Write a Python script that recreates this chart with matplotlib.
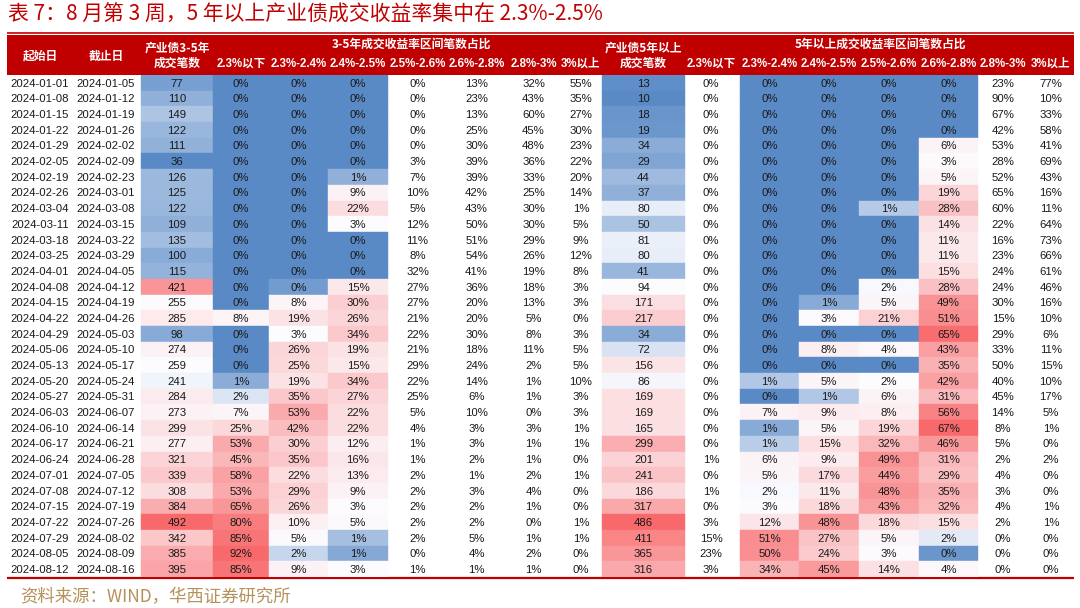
import numpy as np
import matplotlib
matplotlib.use("Agg")
import matplotlib.pyplot as plt
from matplotlib.patches import Rectangle
from matplotlib.colors import to_rgb

# ---------------- data ----------------
start_dates = ["2024-01-01", "2024-01-08", "2024-01-15", "2024-01-22", "2024-01-29", "2024-02-05",
               "2024-02-19", "2024-02-26", "2024-03-04", "2024-03-11", "2024-03-18", "2024-03-25",
               "2024-04-01", "2024-04-08", "2024-04-15", "2024-04-22", "2024-04-29", "2024-05-06",
               "2024-05-13", "2024-05-20", "2024-05-27", "2024-06-03", "2024-06-10", "2024-06-17",
               "2024-06-24", "2024-07-01", "2024-07-08", "2024-07-15", "2024-07-22", "2024-07-29",
               "2024-08-05", "2024-08-12"]
end_dates = ["2024-01-05", "2024-01-12", "2024-01-19", "2024-01-26", "2024-02-02", "2024-02-09",
             "2024-02-23", "2024-03-01", "2024-03-08", "2024-03-15", "2024-03-22", "2024-03-29",
             "2024-04-05", "2024-04-12", "2024-04-19", "2024-04-26", "2024-05-03", "2024-05-10",
             "2024-05-17", "2024-05-24", "2024-05-31", "2024-06-07", "2024-06-14", "2024-06-21",
             "2024-06-28", "2024-07-05", "2024-07-12", "2024-07-19", "2024-07-26", "2024-08-02",
             "2024-08-09", "2024-08-16"]

# 3-5 year industrial bonds
count_35 = [77, 110, 149, 122, 111, 36, 126, 125, 122, 109, 135, 100, 115, 421, 255, 285, 98, 274,
            259, 241, 284, 273, 299, 277, 321, 339, 308, 384, 492, 342, 385, 395]
a_lt23 = [0, 0, 0, 0, 0, 0, 0, 0, 0, 0, 0, 0, 0, 0, 0, 8, 0, 0, 0, 0.9, 2.4, 7, 25, 53, 45, 58,
          53, 65, 80, 85, 92, 85]
a_23_24 = [0, 0, 0, 0, 0, 0, 0, 0, 0, 0, 0, 0, 0, 0.45, 8, 19, 3, 26, 25, 19, 35, 53, 42, 30, 35,
           22, 29, 26, 10, 5, 2.0, 9]
a_24_25 = [0, 0, 0, 0, 0, 0, 1.0, 9, 22, 3, 0, 0, 0, 15, 30, 26, 34, 19, 15, 34, 27, 22, 22, 12,
           16, 13, 9, 3, 5, 1.4, 0.8, 3.2]
a_25_26 = [0, 0, 0, 0, 0, 3, 7, 10, 5, 12, 11, 8, 32, 27, 27, 21, 22, 21, 29, 22, 25, 5, 4, 1, 1,
           2, 2, 2, 2, 2, 0, 1]
a_26_28 = [13, 23, 13, 25, 30, 39, 39, 42, 43, 50, 51, 54, 41, 36, 20, 20, 30, 18, 24, 14, 6, 10,
           3, 3, 2, 1, 3, 2, 2, 5, 4, 1]
a_28_30 = [32, 43, 60, 45, 48, 36, 33, 25, 30, 30, 29, 26, 19, 18, 13, 5, 8, 11, 2, 1, 1, 0, 3, 1,
           1, 2, 4, 1, 0, 1, 2, 1]
a_gt3 = [55, 35, 27, 30, 23, 22, 20, 14, 1, 5, 9, 12, 8, 3, 3, 0, 3, 5, 5, 10, 3, 3, 1, 1, 0, 1,
         0, 0, 1, 1, 0, 0]

# 5+ year industrial bonds
count_5 = [13, 10, 18, 19, 34, 29, 44, 37, 80, 50, 81, 80, 41, 94, 171, 217, 34, 72, 156, 86, 169,
           169, 165, 299, 201, 241, 186, 317, 486, 411, 365, 316]
b_lt23 = [0, 0, 0, 0, 0, 0, 0, 0, 0, 0, 0, 0, 0, 0, 0, 0, 0, 0, 0, 0, 0, 0, 0, 0, 1, 0, 1, 0, 3,
          15, 23, 3]
b_23_24 = [0, 0, 0, 0, 0, 0, 0, 0, 0, 0, 0, 0, 0, 0, 0, 0, 0, 0, 0, 1.05, 0, 7, 0.55, 1.15, 6, 5,
           1.9, 3, 12, 51, 50, 34]
b_24_25 = [0, 0, 0, 0, 0, 0, 0, 0, 0, 0, 0, 0, 0, 0, 0.55, 3, 0, 8, 0, 5, 1.05, 9, 5, 15, 9, 17,
           11, 18, 48, 27, 24, 45]
b_25_26 = [0, 0, 0, 0, 0, 0, 0, 0, 1.1, 0, 0, 0, 0, 1.9, 5, 21, 0, 4, 0, 2.0, 6, 8, 19, 32, 49,
           44, 48, 43, 18, 5, 3, 14]
b_26_28 = [0, 0, 0, 0, 6, 3, 5, 19, 28, 14, 11, 11, 15, 28, 49, 51, 65, 43, 35, 42, 31, 56, 67,
           46, 31, 29, 35, 32, 15, 1.65, 0.2, 4]
b_28_30 = [23, 90, 67, 42, 53, 28, 52, 65, 60, 22, 16, 23, 24, 24, 30, 15, 29, 33, 50, 40, 45, 14,
           8, 5, 2, 4, 3, 4, 2, 0, 0, 0]
b_gt3 = [77, 10, 33, 58, 41, 69, 43, 16, 11, 64, 73, 66, 61, 46, 16, 10, 6, 11, 15, 10, 17, 5, 1,
         0, 2, 0, 0, 1, 1, 0, 0, 0]

bucket_labels = ["2.3%以下", "2.3%-2.4%", "2.4%-2.5%", "2.5%-2.6%", "2.6%-2.8%", "2.8%-3%", "3%以上"]
title = "表 7：8 月第 3 周，5 年以上产业债成交收益率集中在 2.3%-2.5%"
source = "资料来源：WIND，华西证券研究所"

# ---------------- styles ----------------
RED_HEAD = "#C00000"
C_BLUE, C_WHITE, C_RED = np.array(to_rgb("#5A8AC6")), np.array(to_rgb("#FCFCFF")), np.array(to_rgb("#F8696B"))
LAT = ["Liberation Sans", "Noto Sans CJK SC"]
CJK = ["Noto Sans CJK SC", "DejaVu Sans"]


def scale_colors(values, ref):
    ref = np.asarray(ref, float)
    lo, mid, hi = ref.min(), np.percentile(ref, 50), ref.max()
    out = []
    for v in values:
        if v <= mid:
            t = 0.0 if mid == lo else (v - lo) / (mid - lo)
            out.append(C_BLUE + t * (C_WHITE - C_BLUE))
        else:
            t = 0.0 if hi == mid else (v - mid) / (hi - mid)
            out.append(C_WHITE + t * (C_RED - C_WHITE))
    return out


W, H = 1080, 608
fig = plt.figure(figsize=(W / 100, H / 100), dpi=100)
fig.patch.set_facecolor("white")

# full-figure pixel axes for title/header/source
axf = fig.add_axes([0, 0, 1, 1])
axf.set_xlim(0, W)
axf.set_ylim(H, 0)
axf.axis("off")

# column edges (pixels)
edges = [7, 75, 141, 213, 269, 328, 388, 447, 506, 561, 602, 685, 740, 799, 859, 919, 978, 1028, 1074]
centers = [(edges[i] + edges[i + 1]) / 2 for i in range(len(edges) - 1)]
centers[0], centers[1] = 40, 106
centers[9] = 581
centers[16] = 1003
centers[17] = 1051
centers[11] = 711

body_top, body_bot = 75, 577
n = len(start_dates)

axb = fig.add_axes([0, 1 - body_bot / H, 1, (body_bot - body_top) / H])
axb.set_xlim(0, W)
axb.set_ylim(n, 0)
axb.axis("off")

columns = [start_dates, end_dates, count_35, a_lt23, a_23_24, a_24_25, a_25_26, a_26_28, a_28_30,
           a_gt3, count_5, b_lt23, b_23_24, b_24_25, b_25_26, b_26_28, b_28_30, b_gt3]
pct_cols = {3, 4, 5, 6, 7, 8, 9, 11, 12, 13, 14, 15, 16, 17}

grp_a = a_lt23 + a_23_24 + a_24_25
grp_b = b_23_24 + b_24_25 + b_25_26 + b_26_28
colored = {
    2: scale_colors(count_35, count_35),
    3: scale_colors(a_lt23, grp_a),
    4: scale_colors(a_23_24, grp_a),
    5: scale_colors(a_24_25, grp_a),
    10: scale_colors(count_5, count_5),
    12: scale_colors(b_23_24, grp_b),
    13: scale_colors(b_24_25, grp_b),
    14: scale_colors(b_25_26, grp_b),
    15: scale_colors(b_26_28, grp_b),
}

for ci, col in enumerate(columns):
    for ri, v in enumerate(col):
        if ci in colored:
            axb.add_patch(Rectangle((edges[ci], ri), edges[ci + 1] - edges[ci], 1,
                                    facecolor=colored[ci][ri], edgecolor=colored[ci][ri], lw=0.3))
        if isinstance(v, str):
            s = v
        elif ci in pct_cols:
            s = f"{int(round(v))}%"
        else:
            s = f"{int(v)}"
        axb.text(centers[ci], ri + 0.55, s, ha="center", va="center", fontsize=8.2,
                 family=LAT, color="#1a1a1a")

# bottom rule
axf.plot([7, 1074], [body_bot + 0.5, body_bot + 0.5], color=RED_HEAD, lw=1.6, solid_capstyle="butt")

# header band
axf.plot([7, 1074], [32.6, 32.6], color=RED_HEAD, lw=1.2, solid_capstyle="butt")
axf.add_patch(Rectangle((7, 34.5), 1074 - 7, body_top - 34.5, facecolor=RED_HEAD, edgecolor="none"))

hkw = dict(ha="center", va="center", color="white", fontweight="bold")
axf.text(centers[0], 56, "起始日", fontsize=8.5, family=CJK, **hkw)
axf.text(centers[1], 56, "截止日", fontsize=8.5, family=CJK, **hkw)
axf.text(177, 48, "产业债3-5年", fontsize=8.5, family=CJK, **hkw)
axf.text(177, 63, "成交笔数", fontsize=8.5, family=CJK, **hkw)
axf.text(643, 48, "产业债5年以上", fontsize=8.5, family=CJK, **hkw)
axf.text(643, 63, "成交笔数", fontsize=8.5, family=CJK, **hkw)
axf.text(411, 44, "3-5年成交收益率区间笔数占比", fontsize=8.5, family=CJK, **hkw)
axf.text(880, 44, "5年以上成交收益率区间笔数占比", fontsize=8.5, family=CJK, **hkw)
for k, lab in enumerate(bucket_labels):
    axf.text(centers[3 + k], 64, lab, fontsize=8.3, family=LAT, **hkw)
    axf.text(centers[11 + k], 64, lab, fontsize=8.3, family=LAT, **hkw)

# title & source
axf.text(8, 15, title, ha="left", va="center", fontsize=15, family=CJK, color=RED_HEAD)
axf.text(20, 597, source, ha="left", va="center", fontsize=12.5, family=CJK, color="#B5925A")

fig.savefig("out.png", dpi=100, facecolor="white")
